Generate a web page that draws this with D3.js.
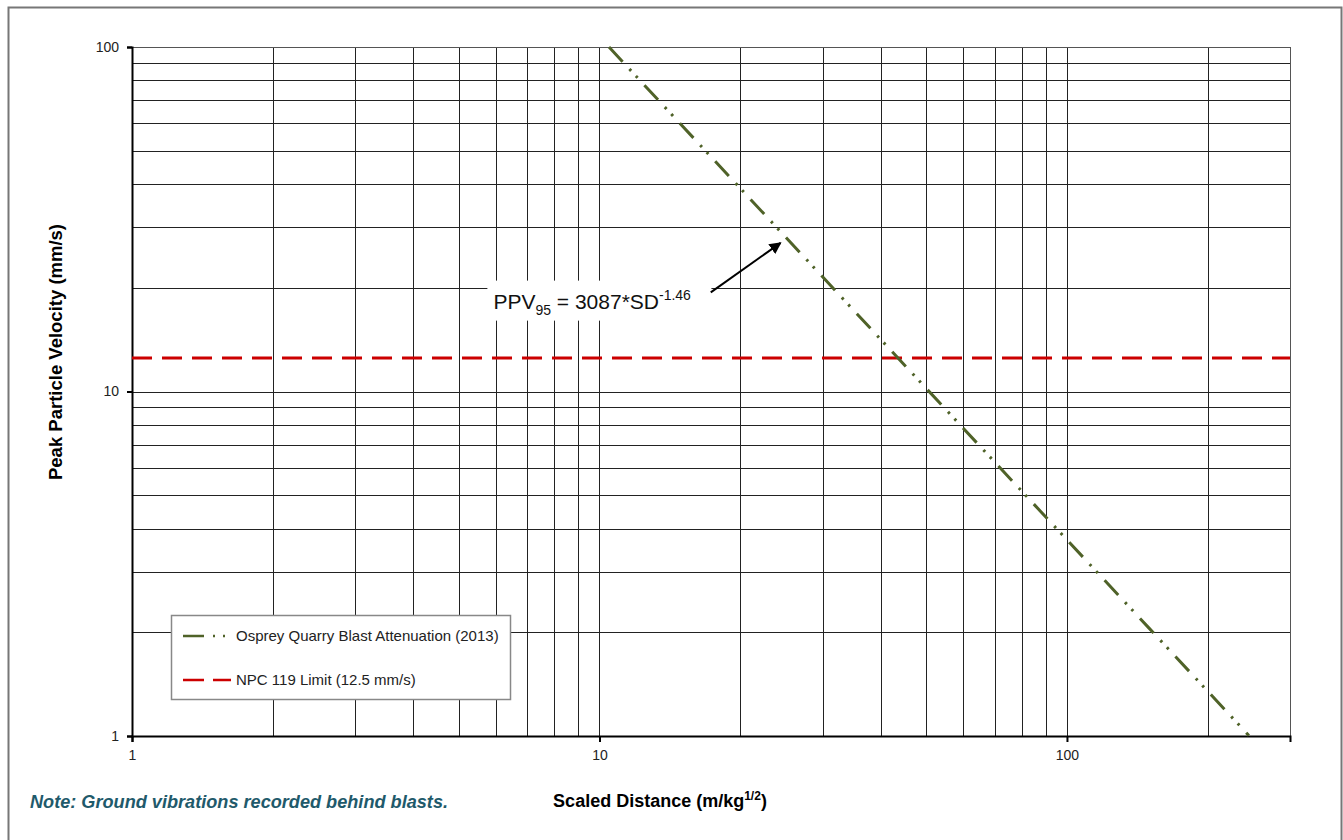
<!DOCTYPE html>
<html>
<head>
<script src="https://d3js.org/d3.v7.min.js"></script>
<style>
body { margin: 0; background: #fff; }
text { font-family: Arial, "Liberation Sans", sans-serif; }
</style>
</head>
<body>
<div id="chart"></div>
<script>
// data
var xDomain = [1, 300];
var yDomain = [1, 100];
var xTicks = [1, 10, 100];
var yTicks = [1, 10, 100];
var fitCoef = 3087, fitExp = -1.46;
var fitSD = [10.48, 20, 50, 100, 150, 245];
var limitValue = 12.5;
var seriesNames = ["Osprey Quarry Blast Attenuation (2013)", "NPC 119 Limit (12.5 mm/s)"];
// annotation anchor points (data units)
var labelAt = {sd: 5.93, ppv: 17.4};
var arrowFrom = {sd: 17.3, ppv: 19.4}, arrowTo = {sd: 24.4, ppv: 27.0};

var W = 1343, H = 840;
var margin = {top: 47, right: 53, bottom: 104, left: 132};
var width = W - margin.left - margin.right,
    height = H - margin.top - margin.bottom;

var svg = d3.select("#chart").append("svg")
    .attr("width", W).attr("height", H);

// outer frame
svg.append("rect").attr("x", 8.5).attr("y", 7.5).attr("width", 1333).attr("height", 840)
    .attr("fill", "none").attr("stroke", "#777").attr("stroke-width", 2);

var g = svg.append("g").attr("transform", "translate(" + margin.left + "," + margin.top + ")");

var x = d3.scaleLog().domain(xDomain).range([0, width]);
var y = d3.scaleLog().domain(yDomain).range([height, 0]);

// grid
var xGrid = [];
for (var d = 1; d <= 300; d *= 10) for (var k = 1; k < 10; k++) if (k * d <= 300 && k * d > 1) xGrid.push(k * d);
var yGrid = [];
for (var d2 = 1; d2 < 100; d2 *= 10) for (var k2 = 1; k2 <= 10; k2++) if (k2 * d2 > 1 && k2 * d2 <= 100) yGrid.push(k2 * d2);

g.selectAll(".xg").data(xGrid).enter().append("line")
    .attr("x1", d => Math.round(x(d)) + 0.5).attr("x2", d => Math.round(x(d)) + 0.5)
    .attr("y1", 0).attr("y2", height)
    .attr("stroke", "#222").attr("stroke-width", 1);
g.selectAll(".yg").data(yGrid).enter().append("line")
    .attr("y1", d => Math.round(y(d)) + 0.5).attr("y2", d => Math.round(y(d)) + 0.5)
    .attr("x1", 0).attr("x2", width)
    .attr("stroke", "#222").attr("stroke-width", 1);
g.append("rect").attr("x", 0.5).attr("y", 0.5).attr("width", width).attr("height", height)
    .attr("fill", "none").attr("stroke", "#555");

// axes
var xAxis = g.append("g").attr("transform", "translate(0," + height + ")")
    .call(d3.axisBottom(x).tickValues(xTicks).tickFormat(d3.format("d")).tickSize(6).tickPadding(8));
var yAxis = g.append("g")
    .call(d3.axisLeft(y).tickValues(yTicks).tickFormat(d3.format("d")).tickSize(5).tickPadding(8));
[xAxis, yAxis].forEach(function(a) {
  a.attr("font-size", 14).attr("font-family", "Arial, 'Liberation Sans', sans-serif");
  a.select(".domain").attr("stroke", "#000").attr("stroke-width", 2);
  a.selectAll(".tick line").attr("stroke", "#000").attr("stroke-width", 2);
  a.selectAll("text").attr("fill", "#222");
});

// limit line
g.append("line")
    .attr("x1", 0).attr("x2", width)
    .attr("y1", y(limitValue)).attr("y2", y(limitValue))
    .attr("stroke", "#cc0000").attr("stroke-width", 3)
    .attr("stroke-dasharray", "20,10");

// attenuation line
var fitData = fitSD.map(s => ({sd: s, ppv: fitCoef * Math.pow(s, fitExp)}));
g.append("path").datum(fitData)
    .attr("fill", "none").attr("stroke", "#4f6228").attr("stroke-width", 3)
    .attr("stroke-dasharray", "20,10,2.5,7,2.5,10")
    .attr("d", d3.line().x(d => x(d.sd)).y(d => y(d.ppv)));

// annotation
var ann = g.append("g");
var lx = x(labelAt.sd), ly = y(labelAt.ppv);
ann.append("rect").attr("x", lx - 6).attr("y", ly - 28).attr("width", 224).attr("height", 40).attr("fill", "#fff");
var at = ann.append("text").attr("x", lx).attr("y", ly).attr("font-size", 21).attr("fill", "#111");
at.append("tspan").text("PPV");
at.append("tspan").attr("font-size", 14).attr("dy", 6).text("95");
at.append("tspan").attr("dy", -6).text(" = 3087*SD");
at.append("tspan").attr("font-size", 14).attr("dy", -9).text("-1.46");

svg.append("defs").append("marker").attr("id", "arr").attr("viewBox", "0 0 10 10")
    .attr("refX", 9).attr("refY", 5).attr("markerWidth", 6).attr("markerHeight", 6)
    .attr("orient", "auto").append("path").attr("d", "M0,0L10,5L0,10z").attr("fill", "#000");
ann.append("line").attr("x1", x(arrowFrom.sd)).attr("y1", y(arrowFrom.ppv))
    .attr("x2", x(arrowTo.sd)).attr("y2", y(arrowTo.ppv))
    .attr("stroke", "#000").attr("stroke-width", 2).attr("marker-end", "url(#arr)");

// legend
var lg = svg.append("g").attr("transform", "translate(171,615)");
lg.append("rect").attr("x", 0.5).attr("y", 0.5).attr("width", 339).attr("height", 84)
    .attr("fill", "#fff").attr("stroke", "#888").attr("stroke-width", 1.5);
lg.append("line").attr("x1", 12).attr("x2", 60).attr("y1", 21).attr("y2", 21)
    .attr("stroke", "#4f6228").attr("stroke-width", 2.5).attr("stroke-dasharray", "21,9,2,8,2,20");
lg.append("line").attr("x1", 12).attr("x2", 60).attr("y1", 65).attr("y2", 65)
    .attr("stroke", "#cc0000").attr("stroke-width", 2.5).attr("stroke-dasharray", "21,9");
lg.selectAll(".lt").data(seriesNames).enter().append("text")
    .attr("x", 65).attr("y", (d, i) => 26 + i * 44)
    .attr("font-size", 15).attr("fill", "#222").text(d => d);

// axis titles
var xt = svg.append("text").attr("x", 660).attr("y", 807).attr("text-anchor", "middle")
    .attr("font-size", 18).attr("font-weight", "bold").attr("fill", "#000");
xt.append("tspan").text("Scaled Distance (m/kg");
xt.append("tspan").attr("font-size", 12).attr("dy", -7).text("1/2");
xt.append("tspan").attr("dy", 7).text(")");

svg.append("text").attr("transform", "translate(62,352) rotate(-90)").attr("text-anchor", "middle")
    .attr("font-size", 18.5).attr("font-weight", "bold").attr("fill", "#000")
    .text("Peak Particle Velocity (mm/s)");

// note
svg.append("text").attr("x", 30).attr("y", 808)
    .attr("font-family", "'Open Sans', 'Noto Sans', sans-serif")
    .attr("font-size", 19).attr("font-style", "italic").attr("font-weight", "bold")
    .attr("fill", "#1f5a6b").attr("textLength", 418).attr("lengthAdjust", "spacingAndGlyphs")
    .text("Note: Ground vibrations recorded behind blasts.");
</script>
</body>
</html>
